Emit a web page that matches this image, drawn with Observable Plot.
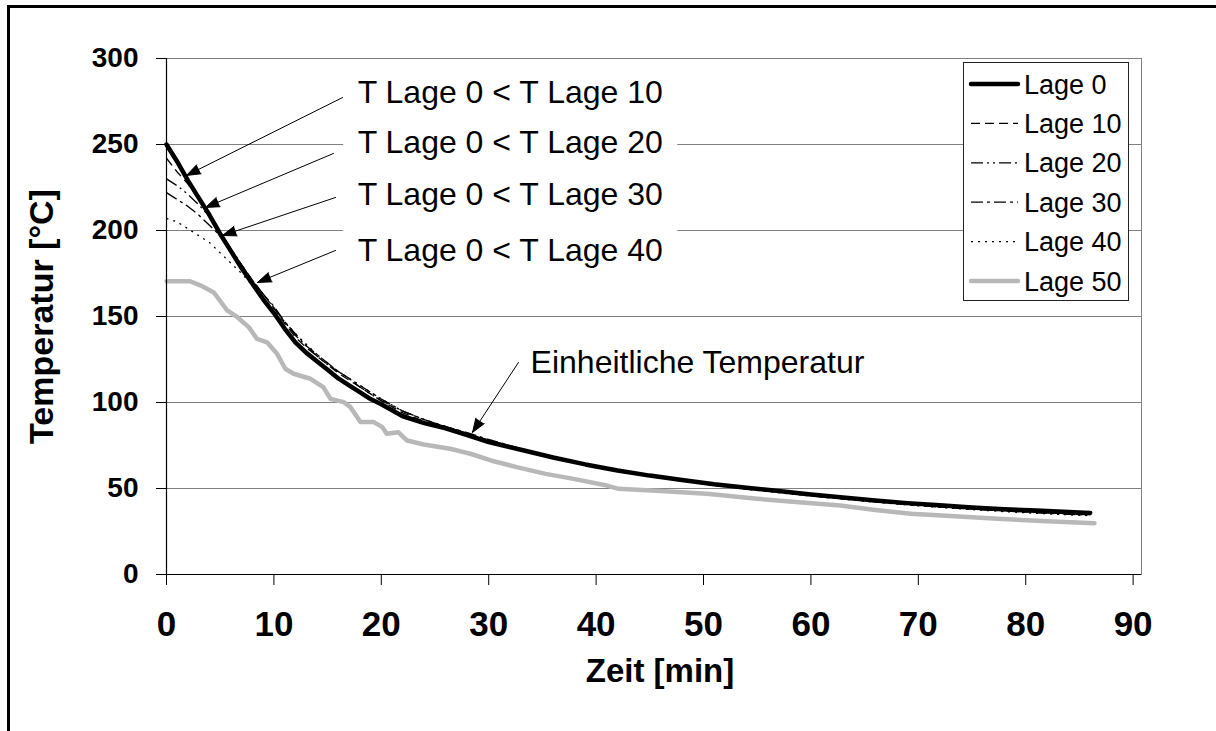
<!DOCTYPE html>
<html><head><meta charset="utf-8">
<script src="https://cdn.jsdelivr.net/npm/d3@7"></script>
<script src="https://cdn.jsdelivr.net/npm/@observablehq/plot@0.6"></script>
<style>
html,body{margin:0;padding:0;background:#fff;overflow:hidden;width:1216px;height:731px;}
#wrap{position:relative;width:1216px;height:731px;overflow:hidden;font-family:"Liberation Sans",Arial,sans-serif;}
#wrap svg.plot{position:absolute;left:0;top:0;}
#ftop{position:absolute;left:7px;top:5px;width:1209px;height:3px;background:#000;}
#fleft{position:absolute;left:7px;top:5px;width:3px;height:726px;background:#000;}
#legend{position:absolute;left:963px;top:62px;width:166px;height:239px;border:1px solid #222;background:#fff;box-sizing:border-box;}
</style></head>
<body><div id="wrap"><div id="ftop"></div><div id="fleft"></div><div id="legend"></div></div>
<script>
// ---- data ----
const seriesNames = ["Lage 0","Lage 10","Lage 20","Lage 30","Lage 40","Lage 50"];
const timeBlack = [0,1,2,3,4,5,6,7,8,9,10,11,12,13,14,15,16,17,18,19,20,22,24,26,28,30,33,36,39,42,45,48,51,54,57,60,63,66,69,72,75,78,81,84,86];
const lage0  = [250,240,229,219,209,198,188,178,169,160,152,143,135,129,124,119,114,110,106,102,99,92,88,85,81,77,72.5,68,64,60.5,57.5,55,52.5,50.5,48.5,46.5,44.8,43,41.5,40.2,39,38,37.2,36.3,35.8];
const lage10 = [242,234,227,218,208,199,189,180,171,163,155,146,138,132,127,122,117,113,109,105,101,94,89,86,82,78,73,68,64,60,57,54.5,52,50,48,46,44.2,42.4,40.8,39.4,38.2,37.1,36.1,35.2,34.7];
const lage20 = [230,226,221,215,208,199,189.5,180,171,163,155,147,139,133,127,122,118,114,109,105,101,95,90,86,82,78,73,68,64,60,57,54.3,51.8,49.8,47.8,45.8,44,42.2,40.6,39.2,38,36.9,35.9,35,34.5];
const lage30 = [222,218,214,209,203,197,188.5,180,171,163,156,147,140,133,128,123,118,114,110,106,102,95,90,86,82.5,78.5,73.2,68.2,64.2,60.2,57.2,54.6,52.1,50.1,48.1,46.1,44.3,42.5,40.9,39.5,38.3,37.2,36.2,35.3,34.8];
const lage40 = [207,205,201,197,193,187,181,175,168,161,154,147,140,134,128,123,118,114,110,106,102,95,90,86,82,78,72.8,67.8,63.8,59.8,56.8,54.2,51.7,49.6,47.6,45.6,43.8,42,40.4,39,37.7,36.6,35.6,34.7,34.2];
const time50 = [0,2.2,3.2,4.4,5.0,5.65,6.6,7.66,8.43,9.36,10.3,11.06,11.84,13.4,14.6,15.27,16.5,17.13,18.06,19.3,20.1,20.5,21.6,22.4,23.95,26.4,28.3,30.2,32.6,35.3,37.9,41.0,42.1,46,50.3,55,58,62.75,66,69.3,73,77.4,82,86.4];
const lage50 = [170.5,170.5,168,164,159,153.5,149.6,143.8,137,135,128.3,119.6,116.7,113.8,108.9,102.1,100.2,97.3,88.6,88.6,85.7,81.8,82.7,77.9,75.6,73.1,70.2,66.3,62.4,58.5,55.6,51.7,49.8,48.5,46.9,44,42.5,40.1,37.5,35.3,34,32.4,31,29.8];
const xTicks = [0,10,20,30,40,50,60,70,80,90];
const yTicks = [0,50,100,150,200,250,300];
const xTitle = "Zeit [min]";
const yTitle = "Temperatur [°C]";
// annotations (data units)
const annLabels = ["T Lage 0 < T Lage 10","T Lage 0 < T Lage 20","T Lage 0 < T Lage 30","T Lage 0 < T Lage 40","Einheitliche Temperatur"];
const annX  = [17.8,17.8,17.8,17.8,33.9];
const annY  = [279.8,251.3,220.5,188.5,123.4];
const arrX1 = [16.39,15.55,15.74,15.74,32.77];
const arrY1 = [277.3,244.8,219.2,188.4,123.3];
const arrX2 = [1.86,3.63,5.21,8.47,28.49];
const arrY2 = [232,213.4,197.1,169.8,82.6];

// ---- styles ----
const sStroke = ["#000","#000","#000","#000","#000","#b8b8b8"];
const sWidth  = [4.5,1.3,1.3,1.3,1.3,4.5];
const sDash   = [null,"9,5","12,4,2,4,2,4","12,4,3,4","2,5",null];

// ---- build tables ----
const blackVals = [lage0,lage10,lage20,lage30,lage40];
const rows = [];
blackVals.forEach((vals,i)=>vals.forEach((v,j)=>rows.push({s:seriesNames[i], t:timeBlack[j], T:v})));
lage50.forEach((v,j)=>rows.push({s:"Lage 50", t:time50[j], T:v}));
const ann = annLabels.map((label,i)=>({label, x:annX[i], y:annY[i], x1:arrX1[i], y1:arrY1[i], x2:arrX2[i], y2:arrY2[i]}));
const boxes = ann.slice(0,4);

const order = [5,4,3,2,1,0];
const lineMarks = order.map(i => Plot.line(rows.filter(d=>d.s===seriesNames[i]), {
  x:"t", y:"T", stroke:sStroke[i], strokeWidth:sWidth[i],
  strokeDasharray: sDash[i] || undefined, strokeLinejoin:"round", strokeLinecap: sDash[i] ? "butt" : "round"
}));

const chart = Plot.plot({
  width: 1216, height: 731,
  marginLeft: 166, marginRight: 75, marginTop: 58, marginBottom: 157,
  style: {fontFamily: "'Liberation Sans', Arial, sans-serif", background: "transparent", overflow: "visible", color: "#000"},
  x: {domain: [0, 90.78]},
  y: {domain: [0, 300]},
  marks: [
    Plot.gridY(yTicks.slice(1), {stroke: "#808080", strokeOpacity: 1, strokeWidth: 1}),
    Plot.frame({stroke: "#808080"}),
    Plot.rect(boxes, {x1: d => d.x - 1.3, x2: d => d.x + 29.8, y1: d => d.y - 13, y2: d => d.y + 13, fill: "#fff"}),
    ...lineMarks,
    Plot.arrow(ann, {x1:"x1", y1:"y1", x2:"x2", y2:"y2", stroke:"#000", fill:"#000", strokeWidth:1, headLength:22, headAngle:40}),
    Plot.text(ann, {x:"x", y:"y", text:"label", textAnchor:"start", lineAnchor:"middle", fontSize:32, fill:"#000"}),
    Plot.ruleX([0], {stroke:"#000", strokeWidth:1.2}),
    Plot.ruleY([0], {stroke:"#000", strokeWidth:1.2}),
    Plot.axisX({ticks: xTicks, tickSize: 11, tickPadding: 26, fontSize: 35, fontWeight: "bold", label: null, stroke:"#000"}),
    Plot.axisY({ticks: yTicks, tickSize: 10, tickPadding: 18, fontSize: 28, fontWeight: "bold", label: null, stroke:"#000"}),
    Plot.text([xTitle], {frameAnchor: "bottom", dx: 6, dy: 97, textAnchor: "middle", lineAnchor: "middle", fontSize: 33, fontWeight: "bold", fill:"#000"}),
    Plot.text([yTitle], {frameAnchor: "left", dx: -124, rotate: -90, textAnchor: "middle", lineAnchor: "middle", fontSize: 34, fontWeight: "bold", fill:"#000"})
  ]
});
chart.classList.add("plot");
const wrap = document.getElementById("wrap");
wrap.insertBefore(chart, wrap.firstChild);

// ---- legend ----
const ns = "http://www.w3.org/2000/svg";
const lg = document.createElementNS(ns, "svg");
lg.setAttribute("width", 164); lg.setAttribute("height", 237);
seriesNames.forEach((name, i) => {
  const cy = 21 + i * 39.4;
  const ln = document.createElementNS(ns, "line");
  ln.setAttribute("x1", 7); ln.setAttribute("x2", 54);
  ln.setAttribute("y1", cy); ln.setAttribute("y2", cy);
  ln.setAttribute("stroke", sStroke[i]);
  ln.setAttribute("stroke-width", sWidth[i]);
  if (sDash[i]) ln.setAttribute("stroke-dasharray", sDash[i]);
  else ln.setAttribute("stroke-linecap", "round");
  lg.appendChild(ln);
  const tx = document.createElementNS(ns, "text");
  tx.setAttribute("x", 60); tx.setAttribute("y", cy + 9.5);
  tx.setAttribute("font-size", 27);
  tx.setAttribute("font-family", "'Liberation Sans', Arial, sans-serif");
  tx.textContent = name;
  lg.appendChild(tx);
});
document.getElementById("legend").appendChild(lg);
</script>
</body></html>
